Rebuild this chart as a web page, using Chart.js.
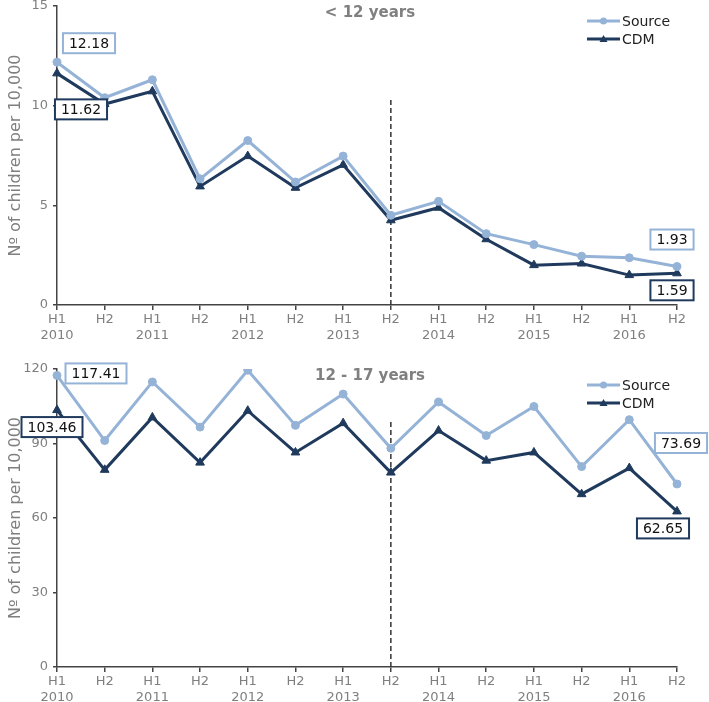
<!DOCTYPE html>
<html lang="en">
<head>
<meta charset="UTF-8">
<title>Children per 10,000</title>
<script src="https://cdn.jsdelivr.net/npm/chart.js"></script>
<style>
  body { margin: 0; background: #fff; }
  .panel { position: absolute; left: 0; width: 709px; }
  #top-panel { top: 0; height: 348px; }
  #bottom-panel { top: 340px; height: 362px; }
</style>
</head>
<body>
<div class="panel" id="top-panel"><canvas id="chartTop"></canvas></div>
<div class="panel" id="bottom-panel"><canvas id="chartBottom"></canvas></div>
<script>
const halves = ['H1','H2','H1','H2','H1','H2','H1','H2','H1','H2','H1','H2','H1','H2'];
const years = ['2010','','2011','','2012','','2013','','2014','','2015','','2016',''];

const youngSource = [12.18, 10.4, 11.3, 6.33, 8.25, 6.17, 7.47, 4.5, 5.2, 3.58, 3.03, 2.45, 2.37, 1.93];
const youngCdm = [11.62, 10.08, 10.72, 5.95, 7.47, 5.88, 7.03, 4.25, 4.88, 3.3, 2.0, 2.08, 1.5, 1.59];
const teenSource = [117.41, 91.2, 114.8, 96.6, 119.5, 97.3, 109.9, 88.1, 106.7, 93.2, 104.9, 80.7, 99.6, 73.69];
const teenCdm = [103.46, 79.4, 100.5, 82.3, 103.2, 86.4, 98.2, 78.3, 95.2, 83.1, 86.4, 69.6, 80.1, 62.65];

const seriesNames = ['Source', 'CDM'];
const panelTitles = ['< 12 years', '12 - 17 years'];
const yTitle = 'Nº of children per 10,000';

const LIGHT = '#95b3d7';
const DARK = '#1f3a5c';
const FONT = '"DejaVu Sans", Verdana, sans-serif';

// titles, legend, dashed split line and value callouts
const panelDecor = {
  id: 'panelDecor',
  beforeDatasetsDraw(chart, args, opts) {
    const {ctx, chartArea} = chart;
    const x = chart.scales.x.getPixelForValue(opts.splitIndex);
    ctx.save();
    ctx.strokeStyle = '#333';
    ctx.lineWidth = 1.5;
    ctx.setLineDash([5, 3]);
    ctx.beginPath();
    ctx.moveTo(x, opts.splitTop);
    ctx.lineTo(x, chartArea.bottom);
    ctx.stroke();
    ctx.restore();
  },
  afterDatasetsDraw(chart, args, opts) {
    const {ctx, chartArea} = chart;
    ctx.save();
    // title
    ctx.font = 'bold 15px ' + FONT;
    ctx.fillStyle = '#808080';
    ctx.textAlign = 'center';
    ctx.textBaseline = 'middle';
    ctx.fillText(opts.title, (chartArea.left + chartArea.right) / 2 + 3, opts.titleY);

    // legend
    ctx.font = '14px ' + FONT;
    ctx.textAlign = 'left';
    chart.data.datasets.forEach((ds, i) => {
      const y = opts.legendY + i * 18;
      const x0 = opts.legendX;
      ctx.strokeStyle = ds.borderColor;
      ctx.lineWidth = 3;
      ctx.setLineDash([]);
      ctx.beginPath();
      ctx.moveTo(x0, y);
      ctx.lineTo(x0 + 33, y);
      ctx.stroke();
      ctx.fillStyle = ds.borderColor;
      ctx.beginPath();
      if (ds.pointStyle === 'triangle') {
        ctx.moveTo(x0 + 16.5, y - 4);
        ctx.lineTo(x0 + 20.5, y + 3);
        ctx.lineTo(x0 + 12.5, y + 3);
        ctx.closePath();
      } else {
        ctx.arc(x0 + 16.5, y, 3.5, 0, Math.PI * 2);
      }
      ctx.fill();
      ctx.fillStyle = '#222';
      ctx.fillText(ds.label, x0 + 35, y + 1);
    });

    // callouts
    ctx.font = '14px ' + FONT;
    ctx.textAlign = 'center';
    opts.callouts.forEach(c => {
      const ds = chart.data.datasets[c.ds];
      const v = ds.data[c.idx];
      const px = chart.scales.x.getPixelForValue(c.idx) + c.dx;
      const py = chart.scales.y.getPixelForValue(v) + c.dy;
      const text = v.toFixed(2);
      const w = ctx.measureText(text).width + 12;
      const h = 20;
      ctx.fillStyle = '#fff';
      ctx.fillRect(px - w / 2, py - h / 2, w, h);
      ctx.strokeStyle = ds.borderColor;
      ctx.lineWidth = 2;
      ctx.strokeRect(px - w / 2, py - h / 2, w, h);
      ctx.fillStyle = '#111';
      ctx.fillText(text, px, py + 1);
    });
    ctx.restore();
  }
};

function makePanel(canvasId, source, cdm, yMax, yStep, padTop, xHeight, decor) {
  return new Chart(document.getElementById(canvasId), {
    type: 'line',
    data: {
      labels: halves.map((h, i) => [h, years[i]]),
      datasets: [
        {
          label: seriesNames[0], data: source,
          borderColor: LIGHT, backgroundColor: LIGHT,
          borderWidth: 3, pointStyle: 'circle', pointRadius: 4, pointBorderWidth: 1,
          tension: 0
        },
        {
          label: seriesNames[1], data: cdm,
          borderColor: DARK, backgroundColor: DARK,
          borderWidth: 3, pointStyle: 'triangle', pointRadius: 5, pointBorderWidth: 1,
          tension: 0
        }
      ]
    },
    options: {
      responsive: true,
      maintainAspectRatio: false,
      animation: false,
      layout: { padding: { left: 0, right: 32, top: padTop, bottom: 0 } },
      plugins: {
        legend: { display: false },
        tooltip: { enabled: false },
        panelDecor: decor
      },
      scales: {
        x: {
          grid: { drawOnChartArea: false, tickLength: 5, color: '#444', lineWidth: 1.5 },
          border: { color: '#444', width: 1.5 },
          ticks: {
            autoSkip: false, maxRotation: 0, padding: 2,
            color: '#7f7f7f', font: { family: FONT, size: 13, lineHeight: 1.2 }
          },
          afterFit(scale) {
            scale.height = xHeight;
            scale.paddingLeft = 0;
            scale.paddingRight = 0;
          }
        },
        y: {
          min: 0, max: yMax,
          grid: { drawOnChartArea: false, tickLength: 4, color: '#444', lineWidth: 1.5 },
          border: { color: '#444', width: 1.5 },
          ticks: {
            stepSize: yStep, padding: 5,
            color: '#7f7f7f', font: { family: FONT, size: 13 }
          },
          title: {
            display: true, text: yTitle, color: '#7f7f7f',
            font: { family: FONT, size: 16 }, padding: { top: 6, bottom: 0 }
          },
          afterFit(scale) {
            scale.width = 57;
            scale.paddingTop = 0;
            scale.paddingBottom = 0;
          }
        }
      }
    },
    plugins: [panelDecor]
  });
}

makePanel('chartTop', youngSource, youngCdm, 15, 5, 5, 43, {
  title: panelTitles[0], titleY: 13,
  legendX: 587, legendY: 21,
  splitIndex: 7, splitTop: 100,
  callouts: [
    { ds: 0, idx: 0, dx: 32, dy: -19 },
    { ds: 1, idx: 0, dx: 24, dy: 36 },
    { ds: 0, idx: 13, dx: -5, dy: -27 },
    { ds: 1, idx: 13, dx: -5, dy: 17 }
  ]
});

makePanel('chartBottom', teenSource, teenCdm, 120, 30, 29, 35, {
  title: panelTitles[1], titleY: 36,
  legendX: 587, legendY: 45,
  splitIndex: 7, splitTop: 82,
  callouts: [
    { ds: 0, idx: 0, dx: 39, dy: -2 },
    { ds: 1, idx: 0, dx: -5, dy: 17 },
    { ds: 0, idx: 13, dx: 4, dy: -41 },
    { ds: 1, idx: 13, dx: -14, dy: 17 }
  ]
});
</script>
</body>
</html>
